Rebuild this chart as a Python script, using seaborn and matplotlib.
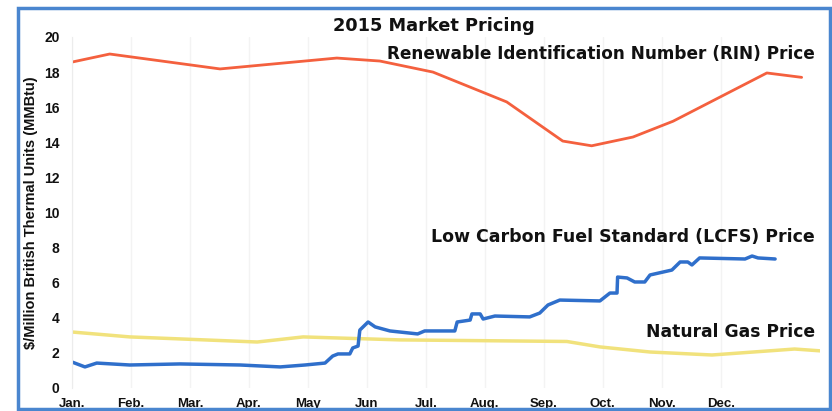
import numpy as np
import pandas as pd
import matplotlib.pyplot as plt
import seaborn as sns
from matplotlib.patches import Rectangle

sns.set_style("white")
plt.rcParams['font.family'] = ['Liberation Sans', 'DejaVu Sans']
plt.rcParams['text.color'] = '#111111'
plt.rcParams['axes.labelcolor'] = '#111111'
plt.rcParams['xtick.color'] = '#111111'
plt.rcParams['ytick.color'] = '#111111'

# month index (0 = Jan.) and price in $/MMBtu
months = ['Jan.', 'Feb.', 'Mar.', 'Apr.', 'May', 'Jun', 'Jul.', 'Aug.', 'Sep.', 'Oct.', 'Nov.', 'Dec.']

rin_x = [0.00, 0.64, 2.51, 4.49, 5.22, 6.12, 7.37, 8.32, 8.81, 9.51, 10.19, 11.78, 12.37]
rin_y = [18.57, 19.03, 18.18, 18.80, 18.63, 18.00, 16.30, 14.07, 13.80, 14.30, 15.20, 17.95, 17.70]

gas_x = [0.00, 0.98, 3.14, 3.92, 5.56, 8.39, 8.95, 9.80, 10.85, 12.25, 12.71]
gas_y = [3.19, 2.91, 2.62, 2.91, 2.74, 2.65, 2.34, 2.05, 1.88, 2.22, 2.11]

lcfs_x = [0.00, 0.22, 0.42, 0.98, 1.83, 2.85, 3.53, 3.95, 4.29, 4.42, 4.51, 4.71,
          4.76, 4.85, 4.88, 5.02, 5.14, 5.39, 5.86, 5.98, 6.49, 6.53, 6.75, 6.78,
          6.92, 6.97, 7.17, 7.76, 7.93, 8.07, 8.27, 8.95, 9.12, 9.24, 9.25, 9.41,
          9.54, 9.71, 9.80, 10.17, 10.31, 10.44, 10.51, 10.64, 11.41, 11.53, 11.63, 11.92]
lcfs_y = [1.48, 1.20, 1.42, 1.31, 1.37, 1.31, 1.20, 1.31, 1.42, 1.82, 1.94, 1.94,
          2.28, 2.39, 3.30, 3.76, 3.48, 3.25, 3.08, 3.25, 3.25, 3.76, 3.87, 4.22,
          4.22, 3.93, 4.10, 4.05, 4.27, 4.73, 5.01, 4.96, 5.41, 5.41, 6.32, 6.27,
          6.04, 6.04, 6.44, 6.72, 7.18, 7.18, 7.01, 7.41, 7.35, 7.52, 7.41, 7.35]

wide = ['DejaVu Sans']

fig = plt.figure(figsize=(8.32, 4.11), dpi=100)
ax = fig.add_axes([0.0865, 0.056, 0.899, 0.854])

sns.lineplot(x=rin_x, y=rin_y, ax=ax, color='#f4603e', linewidth=2)
sns.lineplot(x=gas_x, y=gas_y, ax=ax, color='#f1e27c', linewidth=2.5)
sns.lineplot(x=lcfs_x, y=lcfs_y, ax=ax, color='#2f6fcb', linewidth=2.5)

ax.set_xlim(0, 12.68)
ax.set_ylim(0, 20)
ax.set_xticks(range(len(months)))
ax.set_xticklabels(months, fontsize=9.5, fontweight='bold')
ax.set_yticks(range(0, 21, 2))
ax.set_yticklabels([str(v) for v in range(0, 21, 2)], fontsize=10, fontweight='bold')
ax.tick_params(axis='y', length=0, pad=9)
ax.tick_params(axis='x', length=0, pad=7)
ax.grid(axis='x', color='#f3f3f3', linewidth=1)
for s in ['top', 'right', 'bottom']:
    ax.spines[s].set_visible(False)
ax.spines['left'].set_color('#ececec')

ax.set_ylabel('$/Million British Thermal Units (MMBtu)', fontsize=10.5, fontweight='bold',
              family=['Liberation Sans Narrow', 'Liberation Sans', 'DejaVu Sans'], labelpad=4)

fig.text(0.521, 0.937, '2015 Market Pricing', ha='center', va='center',
         fontsize=12.8, fontweight='bold', family=wide)
ax.text(0.993, 19.05, 'Renewable Identification Number (RIN) Price', ha='right', va='center',
        fontsize=12.2, fontweight='bold', family=wide, transform=ax.get_yaxis_transform())
ax.text(0.993, 8.6, 'Low Carbon Fuel Standard (LCFS) Price', ha='right', va='center',
        fontsize=12.5, fontweight='bold', family=wide, transform=ax.get_yaxis_transform())
ax.text(0.993, 3.2, 'Natural Gas Price', ha='right', va='center',
        fontsize=12.3, fontweight='bold', family=wide, transform=ax.get_yaxis_transform())

# blue frame around the whole chart
fig.patches.append(Rectangle((18 / 832, 2 / 411), 812 / 832, 401 / 411, transform=fig.transFigure,
                             fill=False, edgecolor='#4a86cf', linewidth=2.5))

fig.savefig('out.png', dpi=100)
